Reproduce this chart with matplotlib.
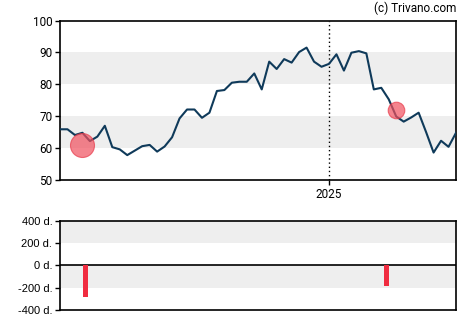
import matplotlib
matplotlib.use("Agg")
import matplotlib.pyplot as plt
import matplotlib.dates as mdates
import numpy as np
import pandas as pd

# weekly closing prices
start = "2024-04-24"
prices = [65.9, 65.9, 64.1, 64.8, 62.2, 63.6, 67.0, 60.3, 59.6, 57.8,
          59.2, 60.6, 61.0, 58.9, 60.5, 63.4, 69.3, 72.1, 72.1, 69.5,
          71.1, 77.9, 78.2, 80.5, 80.8, 80.8, 83.4, 78.4, 87.1, 84.8,
          87.9, 86.8, 90.1, 91.5, 87.1, 85.5, 86.4, 89.4, 84.3, 89.9,
          90.4, 89.7, 78.4, 78.9, 75.3, 69.9, 68.3, 69.6, 71.1, 65.0,
          58.6, 62.3, 60.4, 64.8]
dates = pd.date_range(start, periods=len(prices), freq="7D")

# event markers (price chart) and day deltas (lower panel)
event_dates = pd.to_datetime(["2024-05-15", "2025-03-05"])
event_values = [61.0, 71.9]
event_sizes = [12.0, 8.3]
delta_dates = pd.to_datetime(["2024-05-18", "2025-02-24"])
delta_days = [-286, -183]

line_col = "#0f3a5a"
band_col = "#eeeeee"
red = "#f02c40"

fig = plt.figure(figsize=(4.7, 3.25), dpi=100)
ax = fig.add_axes([60 / 470, 1 - 180 / 325, 396 / 470, 159.5 / 325])
ax2 = fig.add_axes([60 / 470, 1 - 310 / 325, 396 / 470, 89.3 / 325])

x0, x1 = dates[0], dates[-1]

# price panel
for lo, hi in [(60, 70), (80, 90)]:
    ax.axhspan(lo, hi, color=band_col, lw=0, zorder=0)
ax.plot(dates, prices, color=line_col, lw=1.5, zorder=3)
ax.axvline(pd.Timestamp("2025-01-01"), color="black", lw=1, ls=(0, (1, 2)), zorder=2)
for d, v, r in zip(event_dates, event_values, event_sizes):
    ax.plot(d, v, "o", ms=r * 2 * 0.72, mfc="#f0505e", mec="#e83a4a",
            mew=0.8, alpha=0.7, zorder=4)
ax.set_xlim(x0, x1)
ax.set_ylim(50, 100)
ax.set_yticks([50, 60, 70, 80, 90, 100])
ax.xaxis.set_major_locator(mdates.YearLocator())
ax.xaxis.set_major_formatter(mdates.DateFormatter("%Y"))

# day-delta panel
for lo, hi in [(200, 400), (-200, 0)]:
    ax2.axhspan(lo, hi, color=band_col, lw=0, zorder=0)
ax2.axhline(0, color="black", lw=1.2, zorder=2)
ax2.bar(delta_dates, delta_days, width=4.7, color=red, zorder=3)
ax2.set_xlim(x0, x1)
ax2.set_ylim(-400, 400)
ax2.set_yticks([-400, -200, 0, 200, 400])
ax2.set_yticklabels(["-400 d.", "-200 d.", "0 d.", "200 d.", "400 d."],
                    fontfamily="Liberation Sans", fontsize=7)
ax2.set_xticks([])

for a in (ax, ax2):
    for s in a.spines.values():
        s.set_linewidth(1.2)
    a.tick_params(length=3.5, width=1, pad=2, labelsize=8, color="black")

for lab in ax.get_xticklabels() + ax.get_yticklabels():
    lab.set_fontfamily("Roboto")
    lab.set_fontsize(8.5)

fig.text(456 / 470, 1 - 8 / 325, "(c) Trivano.com", ha="right", va="center",
         fontsize=8.5, fontfamily="Roboto")

fig.savefig("out.png", dpi=100)
